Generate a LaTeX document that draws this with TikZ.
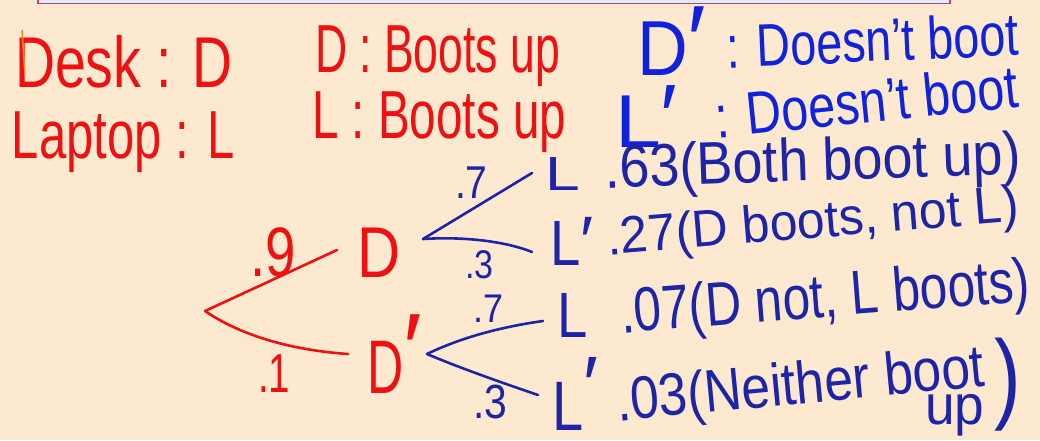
\documentclass[tikz,border=0pt]{standalone}
\usepackage{fontspec}
\setmainfont{Liberation Sans}
\definecolor{bg}{HTML}{FDE9D0}
\definecolor{inkred}{HTML}{EE1111}
\definecolor{inkblue}{HTML}{1122DD}
\definecolor{inknavy}{HTML}{1E24A8}
\definecolor{stripblue}{HTML}{DDEFF6}
\definecolor{stripmag}{HTML}{C23B86}
\definecolor{inkorange}{HTML}{F08A20}
\newcommand{\hwt}[3]{{\fontsize{#1}{#1}\selectfont\scalebox{#2}[1]{#3}}}
\newcommand{\prm}[2]{\raisebox{#2}{\fontsize{#1}{#1}\selectfont ′}}
\begin{document}
\begin{tikzpicture}[x=1pt,y=-1pt,
  lbl/.style={inner sep=0pt, outer sep=0pt, anchor=base west},
  redtxt/.style={lbl, text=inkred},
  bluetxt/.style={lbl, text=inkblue},
  navytxt/.style={lbl, text=inknavy},
  redbranch/.style={draw=inkred, line width=2.6pt, line cap=round, line join=round},
  bluebranch/.style={draw=inknavy, line width=2.6pt, line cap=round}]
\useasboundingbox (0,0) rectangle (1040,440);
\fill[bg] (0,0) rectangle (1040,440);
\fill[stripblue] (38,0) rectangle (950,3.5);
\draw[stripmag, line width=1.5pt] (38,0) -- (38,3.5) -- (950,3.5) -- (950,0);
% legend
\node[redtxt] (desk) at (15,87) {\hwt{72}{0.77}{Desk : D}};
\node[redtxt] (laptop) at (12,158) {\hwt{68}{0.72}{Laptop : L}};
\node[redtxt] (dboot) at (315,72) {\hwt{68}{0.655}{D : Boots up}};
\node[redtxt] (lboot) at (312,138) {\hwt{68}{0.70}{L : Boots up}};
\draw[inkorange, line width=1.5pt] (22,30) -- (25,75);
\node[bluetxt] (dprime) at (637,75) {\hwt{78}{0.9}{D}\prm{100}{0pt}};
\node[bluetxt, rotate=2.5] (dnot) at (727,68) {\hwt{60}{0.78}{: Doesn't boot}};
\node[bluetxt] (lprime) at (615,147) {\hwt{75}{1.1}{L}\prm{90}{0pt}};
\node[bluetxt, rotate=5.8] (lnot) at (717,138) {\hwt{60}{0.81}{: Doesn't boot}};
% tree
\coordinate (root) at (205,311);
\coordinate (upEnd) at (337,250);
\coordinate (loEnd) at (348,354);
\node[redtxt] (D1) at (357,277) {\hwt{72}{0.83}{D}};
\node[redtxt] (D2) at (367,393) {\hwt{76}{0.66}{D}\prm{100}{10pt}};
\node[redtxt] (p9) at (250,276) {\hwt{70}{0.78}{.9}};
\node[redtxt] (p1) at (258,392) {\hwt{55}{0.7}{.1}};
\draw[redbranch] (root) -- (upEnd);
\draw[redbranch] (root) .. controls (240,335) and (290,350) .. (loEnd);
\coordinate (dApex) at (423,239);
\coordinate (e1) at (532,173);
\coordinate (e2) at (532,252);
\coordinate (dpApex) at (427,354);
\coordinate (e3) at (543,321);
\coordinate (e4) at (538,395);
\draw[bluebranch] (dApex) -- (e1);
\draw[bluebranch] (dApex) .. controls (470,236) and (510,243) .. (e2);
\draw[bluebranch] (dpApex) .. controls (460,338) and (500,327) .. (e3);
\draw[bluebranch] (dpApex) .. controls (460,368) and (500,382) .. (e4);
\node[navytxt] (p7a) at (455,198) {\hwt{46}{0.85}{.7}};
\node[navytxt] (p3a) at (465,278) {\hwt{40}{0.85}{.3}};
\node[navytxt] (p7b) at (473,322) {\hwt{40}{0.9}{.7}};
\node[navytxt] (p3b) at (473,418) {\hwt{48}{0.85}{.3}};
\node[navytxt] (L1) at (545,190) {\hwt{48}{1.3}{L}};
\node[navytxt] (L2) at (550,265) {\hwt{64}{0.85}{L}\prm{70}{0pt}};
\node[navytxt] (L3) at (557,337) {\hwt{64}{0.85}{L}};
\node[navytxt] (L4) at (552,430) {\hwt{70}{0.8}{L}\prm{80}{18pt}};
% outcomes
\node[navytxt, rotate=2] (o1) at (605,188) {\hwt{60}{0.9}{.63(Both boot up)}};
\node[navytxt, rotate=4.7] (o2) at (608,255) {\hwt{52}{0.96}{.27(D boots, not L)}};
\node[navytxt, rotate=4.5] (o3) at (622,333) {\hwt{62}{0.80}{.07(D not, L boots)}};
\node[navytxt, rotate=5.4] (o4) at (618,421) {\hwt{60}{0.86}{.03(Neither boot}};
\node[navytxt] (o4b) at (925,424) {\hwt{56}{0.95}{up}\hspace{10pt}\raisebox{14pt}{\hwt{100}{0.8}{)}}};
\end{tikzpicture}
\end{document}
